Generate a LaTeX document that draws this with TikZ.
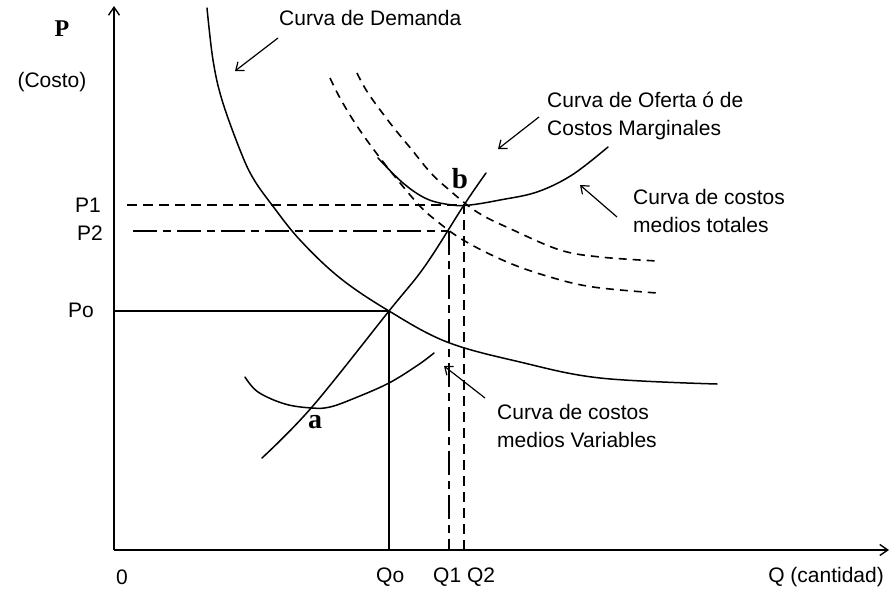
\documentclass[tikz,border=0pt]{standalone}
\usepackage{fontspec}
\setmainfont{Liberation Sans}
\newfontfamily\serifb{Liberation Serif}
\usetikzlibrary{arrows.meta}
\begin{document}
\begin{tikzpicture}[x=1pt,y=-1pt,
  lbl/.style={font=\fontsize{21}{28}\selectfont, inner sep=0pt, anchor=west, align=left},
  ltr/.style={inner sep=0pt},
  crv/.style={line width=1.5pt, line join=round, line cap=round},
  dsh/.style={line width=1.6pt, dash pattern=on 8pt off 6pt},
  ptr/.style={line width=1.2pt, -{Straight Barb[length=7pt,width=11pt]}},
  axis/.style={line width=1.4pt, -{Straight Barb[length=8pt,width=11pt]}}]
\useasboundingbox (0,0) rectangle (891,599);
\fill[white] (0,0) rectangle (891,599);
% axes
\coordinate (O) at (114,550);
\coordinate (Ytop) at (114,6);
\coordinate (Xend) at (889,550);
\draw[axis] (O) -- (Ytop);
\draw[axis] (O) -- (Xend);
% key points
\coordinate (E) at (389,311);
\coordinate (B) at (464,205);
\coordinate (C) at (449,231);
\coordinate (P0a) at (114,311);
\coordinate (P1a) at (127,205);
\coordinate (P2a) at (133,231);
\coordinate (Q0a) at (389,550);
\coordinate (Q1a) at (449,550);
\coordinate (Q2a) at (464,550);
% reference lines
\draw[line width=1.3pt] (P0a) -- (E) -- (Q0a);
\draw[line width=1.3pt, dash pattern=on 10pt off 6pt] (P1a) -- (B) -- (Q2a);
\draw[line width=1.3pt, dash pattern=on 24pt off 6pt on 8pt off 6pt] (P2a) -- (C);
\draw[line width=1.3pt, dash pattern=on 24pt off 6pt on 8pt off 6pt] (C) -- (Q1a);
% demand curve
\draw[crv] plot[smooth, tension=0.6] coordinates {(207,8) (213,60) (222,100) (240,150) (253,178) (272,205) (300,240) (340,278) (389,311) (447,342) (520,362) (600,378) (717,384)};
% marginal cost (supply)
\draw[crv] plot[smooth, tension=0.6] coordinates {(262,458) (312,407) (389,311) (425,266) (464,205) (486,173)};
% average variable cost
\draw[crv] plot[smooth, tension=0.6] coordinates {(245,377) (258,392) (285,404) (312,408) (330,407) (355,398) (389,383) (418,365) (434,353)};
% average total cost
\draw[crv] plot[smooth, tension=0.6] coordinates {(378,158) (403,183) (427,199) (452,205) (470,205) (500,200) (537,192) (572,175) (608,147)};
% shifted total cost curves (dashed)
\draw[dsh] plot[smooth, tension=0.6] coordinates {(357,73) (368,93) (390,123) (412,150) (430,172) (447,188) (477,212) (513,230) (560,250) (600,257) (657,261)};
\draw[dsh] plot[smooth, tension=0.6] coordinates {(330,78) (340,98) (355,123) (374,150) (396,178) (418,204) (433,218) (463,240) (507,262) (550,277) (593,287) (657,293)};
% point labels
\node[ltr] (lb) at (460,179) {\serifb\bfseries\fontsize{29}{29}\selectfont b};
\node[ltr] (la) at (315,422) {\serifb\bfseries\fontsize{28}{28}\selectfont a};
% axis labels
\node[ltr] (Plab) at (62,29) {\serifb\bfseries\fontsize{24}{24}\selectfont P};
\node[lbl, anchor=center] (costo) at (52,82) {(Costo)};
\node[lbl, anchor=east] (P1) at (101,205) {P1};
\node[lbl, anchor=east] (P2) at (103,233) {P2};
\node[lbl, anchor=east] (P0) at (94,310) {Po};
\node[lbl, anchor=center] (zero) at (122,577) {0};
\node[lbl] (Q0) at (376,577) {Qo};
\node[lbl] (Q12) at (433,577) {Q1 Q2};
\node[lbl, anchor=east] (Qc) at (884,577) {Q (cantidad)};
% curve labels with pointers
\node[lbl] (dem) at (279,18) {Curva de Demanda};
\node[lbl] (ofe) at (547,116) {Curva de Oferta ó de\\Costos Marginales};
\node[lbl] (ctot) at (633,211) {Curva de costos\\medios totales};
\node[lbl] (cvar) at (497,426) {Curva de costos\\medios Variables};
\coordinate (d1) at (278,38);  \coordinate (d2) at (235,71);
\coordinate (o1) at (539,117); \coordinate (o2) at (498,149);
\coordinate (t1) at (617,217); \coordinate (t2) at (580,185);
\coordinate (v1) at (485,398); \coordinate (v2) at (444,366);
\draw[ptr] (d1) -- (d2);
\draw[ptr] (o1) -- (o2);
\draw[ptr] (t1) -- (t2);
\draw[ptr] (v1) -- (v2);
\end{tikzpicture}
\end{document}
